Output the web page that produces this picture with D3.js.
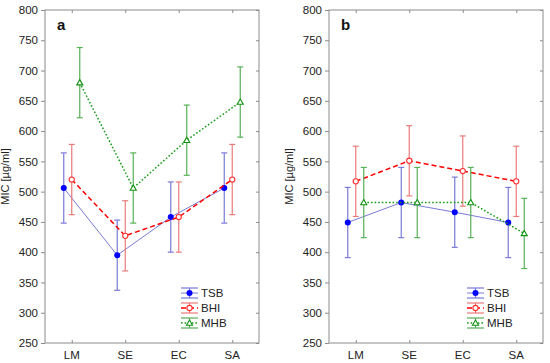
<!DOCTYPE html>
<html>
<head>
<meta charset="utf-8">
<script src="https://cdn.jsdelivr.net/npm/d3@7"></script>
<style>
  body { margin: 0; background: #fff; }
  svg { font-family: "Liberation Sans", Arial, sans-serif; }
</style>
</head>
<body>
<svg id="chart" width="550" height="363"></svg>
<script>
// categories and tick labels
const categories = ["LM", "SE", "EC", "SA"];
const yTicks = [250, 300, 350, 400, 450, 500, 550, 600, 650, 700, 750, 800];

// panel a: means and error half-widths
const aTSB = [506, 395, 458, 506];
const aTSBerr = [58, 58, 58, 58];
const aBHI = [520, 427, 458, 520];
const aBHIerr = [58, 58, 58, 58];
const aMHB = [680, 506, 585, 648];
const aMHBerr = [58, 58, 58, 58];

// panel b
const bTSB = [449, 482, 466, 449];
const bTSBerr = [58, 58, 58, 58];
const bBHI = [517, 551, 534, 517];
const bBHIerr = [58, 58, 58, 58];
const bMHB = [482, 482, 482, 431];
const bMHBerr = [58, 58, 58, 58];

const seriesStyle = {
  TSB: { line: "#7a7ad8", bar: "#7a7ad8", mark: "#0000ff", dash: null, shape: "dot", off: -8 },
  BHI: { line: "#ff0000", bar: "#ec7a7a", mark: "#ff3030", dash: "5,3", shape: "circle", off: 0 },
  MHB: { line: "#1a9a1a", bar: "#58b058", mark: "#109010", dash: "1.6,2", shape: "tri", off: 8 }
};

const svg = d3.select("#chart");

function marker(g, shape, x, y, c) {
  if (shape === "dot") {
    g.append("circle").attr("cx", x).attr("cy", y).attr("r", 3).attr("fill", c);
  } else if (shape === "circle") {
    g.append("circle").attr("cx", x).attr("cy", y).attr("r", 2.6)
      .attr("fill", "#fff").attr("stroke", c).attr("stroke-width", 1.1);
  } else {
    g.append("path").attr("d", d3.symbol(d3.symbolTriangle, 16)())
      .attr("transform", `translate(${x},${y + 0.5})`)
      .attr("fill", "#fff").attr("stroke", c).attr("stroke-width", 1.1);
  }
}

function panel(left, label, data, legendX) {
  const top = 10, bottom = 343, right = left + 214;
  const x = d3.scalePoint().domain(categories).range([left, right]).padding(0.5);
  const y = d3.scaleLinear().domain([250, 800]).range([bottom, top]);
  const g = svg.append("g");

  // frame
  g.append("rect").attr("x", left).attr("y", top).attr("width", right - left).attr("height", bottom - top)
    .attr("fill", "none").attr("stroke", "#8c8c8c").attr("stroke-width", 1);

  // left axis
  const ay = g.append("g").attr("transform", `translate(${left},0)`)
    .call(d3.axisLeft(y).tickValues(yTicks).tickSize(4).tickPadding(3));
  ay.select(".domain").remove();
  ay.selectAll("line").attr("stroke", "#8c8c8c");
  ay.selectAll("text").attr("font-size", 11.5).attr("fill", "#222");
  // right inner ticks
  g.append("g").attr("transform", `translate(${right},0)`)
    .call(d3.axisLeft(y).tickValues(yTicks).tickSize(3).tickFormat(""))
    .call(s => s.select(".domain").remove())
    .selectAll("line").attr("stroke", "#8c8c8c");

  // bottom axis
  const ax = g.append("g").attr("transform", `translate(0,${bottom})`)
    .call(d3.axisTop(x).tickSize(3).tickFormat(""));
  ax.select(".domain").remove();
  ax.selectAll("line").attr("stroke", "#8c8c8c");
  categories.forEach(c => {
    g.append("text").attr("x", x(c)).attr("y", bottom + 16).attr("text-anchor", "middle")
      .attr("font-size", 11.5).attr("fill", "#222").text(c);
  });
  g.append("g").attr("transform", `translate(0,${top})`)
    .call(d3.axisBottom(x).tickSize(3).tickFormat(""))
    .call(s => s.select(".domain").remove())
    .selectAll("line").attr("stroke", "#8c8c8c");

  // y label
  g.append("text").attr("transform", `translate(${left - 36},${(top + bottom) / 2}) rotate(-90)`)
    .attr("text-anchor", "middle").attr("font-size", 11).attr("fill", "#222").text("MIC [µg/ml]");

  // panel label
  g.append("text").attr("x", left + 12).attr("y", top + 20).attr("font-size", 15)
    .attr("font-weight", "bold").attr("fill", "#111").text(label);

  data.forEach(s => {
    const st = seriesStyle[s.name];
    const px = i => x(categories[i]) + st.off;
    // error bars
    s.mean.forEach((m, i) => {
      const cx = px(i);
      const lo = y(m - s.err[i]), hi = y(m + s.err[i]);
      g.append("line").attr("x1", cx).attr("x2", cx).attr("y1", lo).attr("y2", hi)
        .attr("stroke", st.bar).attr("stroke-width", 1.2);
      [lo, hi].forEach(v => g.append("line").attr("x1", cx - 3).attr("x2", cx + 3)
        .attr("y1", v).attr("y2", v).attr("stroke", st.bar).attr("stroke-width", 1.2));
    });
    // line
    const line = d3.line().x((d, i) => px(i)).y(d => y(d));
    g.append("path").datum(s.mean).attr("d", line).attr("fill", "none")
      .attr("stroke", st.line).attr("stroke-width", s.name === "TSB" ? 1 : 1.5)
      .attr("stroke-dasharray", st.dash);
    s.mean.forEach((m, i) => marker(g, st.shape, px(i), y(m), st.mark));
  });

  // legend
  const names = ["TSB", "BHI", "MHB"];
  names.forEach((n, k) => {
    const st = seriesStyle[n];
    const ly = 293 + k * 15;
    const lg = g.append("g");
    const x0 = legendX, x1 = legendX + 17, xm = legendX + 8.5;
    [ly - 5, ly + 5].forEach(v => lg.append("line").attr("x1", x0).attr("x2", x1)
      .attr("y1", v).attr("y2", v).attr("stroke", st.bar).attr("stroke-width", 1.2));
    lg.append("line").attr("x1", xm).attr("x2", xm).attr("y1", ly - 5).attr("y2", ly + 5)
      .attr("stroke", st.bar).attr("stroke-width", 1.2);
    lg.append("line").attr("x1", x0).attr("x2", x1).attr("y1", ly).attr("y2", ly)
      .attr("stroke", st.line).attr("stroke-width", n === "TSB" ? 1 : 1.4)
      .attr("stroke-dasharray", st.dash);
    marker(lg, st.shape, xm, ly, st.mark);
    lg.append("text").attr("x", x1 + 3).attr("y", ly + 4).attr("font-size", 11.5)
      .attr("fill", "#222").text(n);
  });
}

panel(45, "a", [
  { name: "TSB", mean: aTSB, err: aTSBerr },
  { name: "BHI", mean: aBHI, err: aBHIerr },
  { name: "MHB", mean: aMHB, err: aMHBerr }
], 181);

panel(329, "b", [
  { name: "TSB", mean: bTSB, err: bTSBerr },
  { name: "BHI", mean: bBHI, err: bBHIerr },
  { name: "MHB", mean: bMHB, err: bMHBerr }
], 467);
</script>
</body>
</html>
